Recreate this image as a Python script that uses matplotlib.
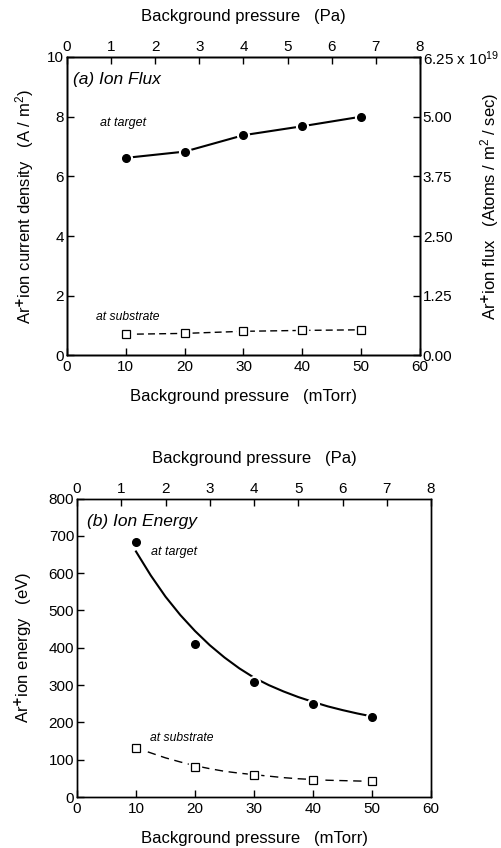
import matplotlib
matplotlib.use("Agg")
import matplotlib.pyplot as plt

plt.rcParams['font.family'] = ['Liberation Sans', 'DejaVu Sans']
plt.rcParams['mathtext.fontset'] = 'custom'
plt.rcParams['mathtext.rm'] = 'Liberation Sans'
plt.rcParams['mathtext.it'] = 'Liberation Sans:italic'

# Dane
p_mtorr = [10, 20, 30, 40, 50]

# (a) gęstość prądu jonów (A/m2)
flux_target = [6.62, 6.83, 7.38, 7.68, 8.0]
flux_substrate = [0.71, 0.74, 0.81, 0.84, 0.86]

# (b) energia jonów (eV)
energy_target = [684, 409, 309, 250, 214]
energy_substrate = [132, 80, 58, 46, 42]

# krzywe dopasowania
fit_target_x = [10, 12.5, 15, 17.5, 20, 22.5, 25, 27.5, 30, 32.5, 35, 37.5, 40, 42.5, 45, 47.5, 50]
fit_target_y = [658, 594, 537, 488, 445, 407, 374, 345, 320, 300, 283, 268, 255, 243, 233, 224, 216]
fit_sub_x = [12, 15, 17.5, 20, 22.5, 25, 27.5, 30, 32.5, 35, 37.5, 40, 42.5, 45, 47.5, 50]
fit_sub_y = [121, 105, 94, 84, 76, 69, 64, 60, 56, 52, 49, 47, 45, 44, 43, 42]

flux_ticks = [0, 1.25, 2.5, 3.75, 5.0, 6.25]
flux_labels = ['0.00', '1.25', '2.50', '3.75', '5.00', '6.25 x 10$^{19}$']

fs_tick = 11
fs_lab = 12

fig = plt.figure(figsize=(5.01, 8.48), dpi=100)


def style(ax):
    ax.tick_params(direction='in', length=5, width=1, labelsize=fs_tick, pad=2)
    for s in ax.spines.values():
        s.set_linewidth(1)


def top_pa(ax):
    ax2 = ax.twiny()
    ax2.set_xlim(0, 8)
    ax2.set_xticks(range(0, 9))
    style(ax2)
    ax2.set_xlabel('Background pressure   (Pa)', fontsize=fs_lab)
    ax2.xaxis.label.set_va('center')
    ax2.xaxis.set_label_coords(0.5, 1.134)
    return ax2


def markers(ax, x, y, kind):
    if kind == 'o':
        ax.plot(x, y, 'o', ms=8.5, color='white', zorder=3)
        ax.plot(x, y, 'o', ms=5.5, color='black', zorder=4)
    else:
        ax.plot(x, y, 's', ms=9, color='white', zorder=3)
        ax.plot(x, y, 's', ms=5.5, mfc='white', mec='black', mew=0.9, zorder=4)


def labels(ax, xl, yl, yx):
    ax.set_xlabel(xl, fontsize=fs_lab)
    ax.set_ylabel(yl, fontsize=fs_lab)
    ax.xaxis.label.set_va('center')
    ax.yaxis.label.set_va('center')
    ax.xaxis.set_label_coords(0.5, -0.138)
    ax.yaxis.set_label_coords(yx, 0.5)
    ax.tick_params(axis='x', pad=3.5)


# Plot (a): strumień jonów
ax = fig.add_axes([0.1337, 0.5808, 0.7046, 0.352])
ax.plot(p_mtorr, flux_target, '-', color='black', lw=1.5)
markers(ax, p_mtorr, flux_target, 'o')
ax.plot(p_mtorr, flux_substrate, color='black', lw=1, dashes=(5, 3))
markers(ax, p_mtorr, flux_substrate, 's')
ax.set_xlim(0, 60)
ax.set_ylim(0, 10)
ax.set_xticks(range(0, 61, 10))
ax.set_yticks(range(0, 11, 2))
style(ax)
labels(ax, 'Background pressure   (mTorr)',
       'Ar$^{\\mathbf{+}}$ion current density   (A / m$^2$)', -0.119)
ax.text(1.0, 9.23, '(a) Ion Flux', fontsize=12.5, style='italic', va='center')
ax.text(5.6, 7.8, 'at target', fontsize=9, style='italic', va='center')
ax.text(4.9, 1.3, 'at substrate', fontsize=8.7, style='italic', va='center')
top_pa(ax)
axr = ax.twinx()
axr.set_ylim(0, 6.25)
axr.set_yticks(flux_ticks)
axr.set_yticklabels(flux_labels)
style(axr)
axr.set_ylabel('Ar$^{\\mathbf{+}}$ion flux   (Atoms / m$^2$ / sec)', fontsize=fs_lab)
axr.yaxis.label.set_va('center')
axr.yaxis.set_label_coords(1.198, 0.5)

# Plot (b): energia jonów
bx = fig.add_axes([0.1537, 0.0601, 0.7066, 0.352])
bx.plot(fit_target_x, fit_target_y, '-', color='black', lw=1.5)
markers(bx, p_mtorr, energy_target, 'o')
bx.plot(fit_sub_x, fit_sub_y, color='black', lw=1, dashes=(6, 4))
markers(bx, p_mtorr, energy_substrate, 's')
bx.set_xlim(0, 60)
bx.set_ylim(0, 800)
bx.set_xticks(range(0, 61, 10))
bx.set_yticks(range(0, 801, 100))
style(bx)
labels(bx, 'Background pressure   (mTorr)', 'Ar$^{\\mathbf{+}}$ion energy   (eV)', -0.153)
bx.text(1.7, 738, '(b) Ion Energy', fontsize=12.5, style='italic', va='center')
bx.text(12.5, 657, 'at target', fontsize=9, style='italic', va='center')
bx.text(12.4, 158, 'at substrate', fontsize=8.7, style='italic', va='center')
top_pa(bx)

fig.savefig('out.png', dpi=100)
